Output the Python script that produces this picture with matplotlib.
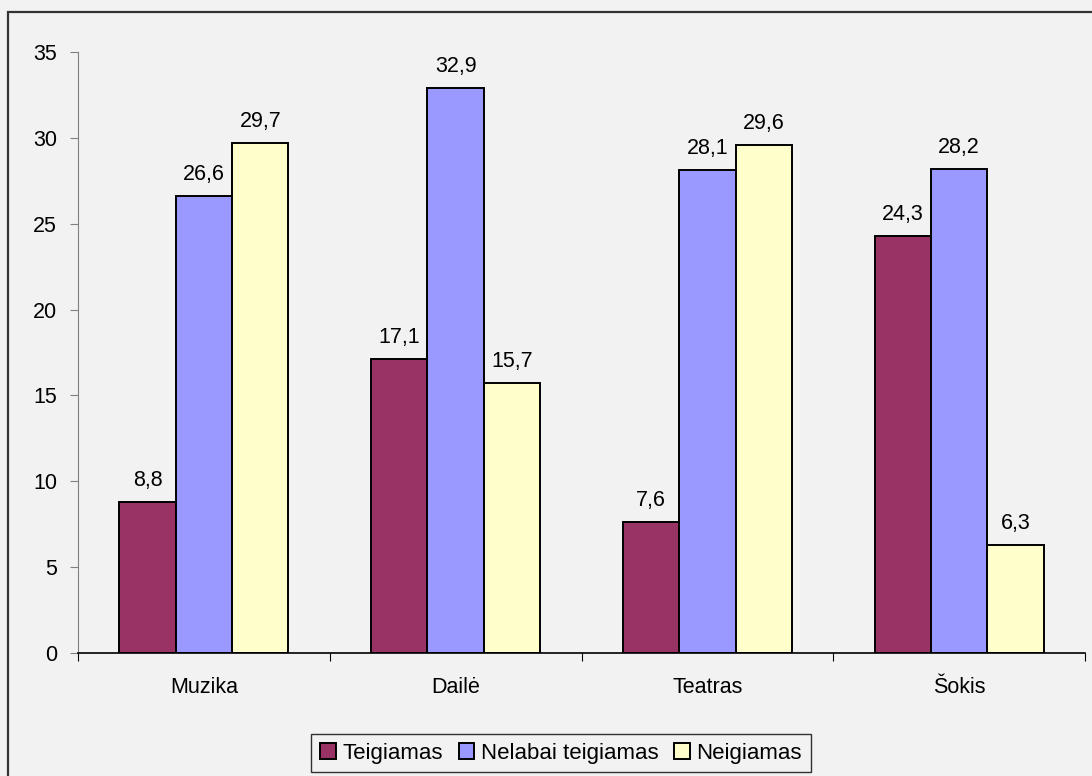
import numpy as np
import matplotlib.pyplot as plt
from matplotlib.patches import Rectangle

plt.rcParams['font.family'] = ['Liberation Sans', 'DejaVu Sans']

categories = ["Muzika", "Dailė", "Teatras", "Šokis"]
series = ["Teigiamas", "Nelabai teigiamas", "Neigiamas"]
teigiamas = [8.8, 17.1, 7.6, 24.3]
nelabai = [26.6, 32.9, 28.1, 28.2]
neigiamas = [29.7, 15.7, 29.6, 6.3]
colors = ["#993366", "#9999FF", "#FFFFCC"]

bg = "#F2F2F2"
fs = 15.5
fig = plt.figure(figsize=(10.92, 7.76), dpi=100, facecolor=bg)
ax = fig.add_axes([78 / 1092, 1 - 653 / 776, (1085 - 78) / 1092, (653 - 52) / 776])
ax.set_facecolor(bg)

# outer chart border (cut off at right and bottom like the source)
fig.patches.append(Rectangle((8 / 1092, -0.1), 1.2, 1 - 12 / 776 + 0.1,
                             transform=fig.transFigure, fill=False,
                             edgecolor="#333333", linewidth=1.6, zorder=0))

x = np.arange(len(categories))
w = 0.224
for i, (vals, c, name) in enumerate(zip([teigiamas, nelabai, neigiamas], colors, series)):
    pos = x + (i - 1) * w
    bars = ax.bar(pos, vals, width=w, color=c, edgecolor="black", linewidth=1.4,
                  label=name)
    for b, v in zip(bars, vals):
        ax.annotate(f"{v:.1f}".replace(".", ","), (b.get_x() + b.get_width() / 2, v),
                    xytext=(0, 8), textcoords="offset points", ha="center",
                    va="bottom", fontsize=fs)

ax.set_xlim(-0.5, 3.5)
ax.set_ylim(0, 35)
ax.set_yticks(np.arange(0, 36, 5))
ax.tick_params(axis="y", labelsize=fs, length=6, color="#808080", pad=9)
ax.set_xticks(np.arange(-0.5, 4, 1))
ax.set_xticks(x, minor=True)
ax.set_xticklabels([])
ax.set_xticklabels(categories, minor=True)
ax.tick_params(axis="x", which="major", length=6, color="black", direction="out")
ax.tick_params(axis="x", which="minor", length=0, labelsize=fs, pad=17)

for s in ["top", "right"]:
    ax.spines[s].set_visible(False)
ax.spines["left"].set_color("#808080")
ax.spines["bottom"].set_color("black")
ax.spines["bottom"].set_linewidth(1.2)

leg = fig.legend(loc="center", bbox_to_anchor=(561 / 1092, 1 - 753 / 776), ncol=3,
                 fontsize=16, frameon=True, fancybox=False, handlelength=0.7,
                 handleheight=0.7, handletextpad=0.3, columnspacing=0.7,
                 borderpad=0.4, borderaxespad=0)
leg.get_frame().set_edgecolor("black")
leg.get_frame().set_facecolor(bg)
leg.get_frame().set_linewidth(1.0)

fig.savefig("out.png", dpi=100, facecolor=bg)
